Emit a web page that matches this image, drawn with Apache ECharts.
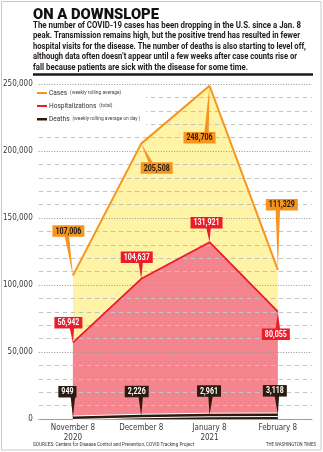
<!DOCTYPE html>
<html>
<head>
<meta charset="utf-8">
<script src="https://cdn.jsdelivr.net/npm/echarts@6/dist/echarts.min.js"></script>
<style>
  html, body { margin: 0; padding: 0; background: #fff; }
  #chart { width: 323px; height: 452px; }
</style>
</head>
<body>
<div id="chart"></div>
<script>
// ---- data ----
const categories = ['November 8\n2020', 'December 8', 'January 8\n2021', 'February 8'];
const cases = [107006, 205508, 248706, 111329];
const hospitalizations = [56942, 104637, 131921, 80055];
const deaths = [949, 2226, 2961, 3118];
const yMin = 0, yMax = 250000, yStep = 50000;

// ---- text ----
const titleText = 'ON A DOWNSLOPE';
const bodyLines = [
  'The number of COVID-19 cases has been dropping in the U.S. since a Jan. 8',
  'peak. Transmission remains high, but the positive trend has resulted in fewer',
  'hospital visits for the disease. The number of deaths is also starting to level off,',
  'although data often doesn\u2019t appear until a few weeks after case counts rise or',
  'fall because patients are sick with the disease for some time.'
];
const legendNames = ['Cases', 'Hospitalizations', 'Deaths'];
const legendNotes = ['(weekly rolling average)', '(total)', '(weekly rolling average on day )'];
const sourceText = 'SOURCES: Centers for Disease Control and Prevention, COVID Tracking Project';
const creditText = 'THE WASHINGTON TIMES';

// ---- styling ----
const COLORS = {
  orange: '#f7941d', yellow: '#fff3a6', red: '#ec1c2b', pink: '#f4848d',
  dark: '#2b1a10', ink: '#1e1a18', axisText: '#3a3a3a', axisLine: '#9c9c9c'
};

// measure text so condensed newspaper type can be imitated with a horizontal scale
const mctx = document.createElement('canvas').getContext('2d');
function textW(str, font) { mctx.font = font; return mctx.measureText(str).width; }
function hasFont(name) {
  const probe = 'mmmmmmmmwwwwlli10,.';
  mctx.font = '20px monospace';
  const w0 = mctx.measureText(probe).width;
  mctx.font = "20px '" + name + "', monospace";
  return mctx.measureText(probe).width !== w0;
}
const narrowFamily = hasFont('Liberation Sans Narrow') ? "'Liberation Sans Narrow'"
  : hasFont('DejaVu Sans Condensed') ? "'DejaVu Sans Condensed'" : 'Roboto';
const narrowAvailable = narrowFamily !== 'Roboto';
const BASE = 'Roboto';

function fittedText(str, font, x, y, width, fill, extra) {
  const s = width / textW(str, font);
  return Object.assign({
    type: 'text', x: x, y: y, scaleX: s, silent: true, z: 10,
    style: { text: str, font: font, fill: fill, align: 'left', verticalAlign: 'middle',
             textAlign: 'left', textVerticalAlign: 'middle' }
  }, extra || {});
}

// ---- header, legend and footer graphics ----
const graphics = [];
graphics.push({
  type: 'rect', silent: true, z: 0,
  shape: { x: 1.5, y: 1.5, width: 319.5, height: 448.5 },
  style: { fill: 'none', stroke: '#c9c9c9', lineWidth: 1 }
});
graphics.push(fittedText(titleText, '900 14.5px ' + BASE, 33, 15, 126, '#111'));
const bodyWidths = [268, 267, 273, 264, 215];
bodyLines.forEach(function (line, i) {
  graphics.push(fittedText(line, 'bold 9.5px ' + BASE, 33, 25.5 + i * 10.5, bodyWidths[i], COLORS.ink));
});
graphics.push({
  type: 'line', silent: true, z: 10,
  shape: { x1: 33, y1: 74.5, x2: 313, y2: 74.5 },
  style: { stroke: '#1a1a1a', lineWidth: 2.5 }
});

// legend block (white backing hides the grid rows behind it)
graphics.push({
  type: 'rect', silent: true, z: 9,
  shape: { x: 34, y: 87, width: 112, height: 38 },
  style: { fill: '#fff' }
});
const legendColors = [COLORS.orange, COLORS.red, COLORS.dark];
const nameFont = '7.5px ' + BASE, noteFont = '5.6px ' + BASE;
const legendScale = 71 / (textW(legendNames[0] + ' ', nameFont) + textW(legendNotes[0], noteFont));
legendNames.forEach(function (name, i) {
  const y = 93 + i * 13;
  graphics.push({
    type: 'rect', silent: true, z: 10,
    shape: { x: 37, y: y - 1, width: 10, height: i === 2 ? 2.5 : 2 },
    style: { fill: legendColors[i] }
  });
  graphics.push({
    type: 'text', silent: true, z: 10, x: 49, y: y, scaleX: legendScale,
    style: {
      text: '{a|' + name + '} {b|' + legendNotes[i] + '}',
      align: 'left', verticalAlign: 'middle', textAlign: 'left', textVerticalAlign: 'middle',
      rich: {
        a: { font: nameFont, fill: '#333', fontSize: 7.5, fontFamily: BASE, color: '#333' },
        b: { font: noteFont, fill: '#444', fontSize: 5.6, fontFamily: BASE, color: '#444' }
      }
    }
  });
});

graphics.push(fittedText(sourceText, '5.6px ' + BASE, 33, 445, 161, '#333'));
graphics.push(fittedText(creditText, '5.6px ' + BASE, 266, 445, 50, '#333'));

// ---- value callouts: box offset (dx, dy) from the point and pointer base shift (bx) ----
const calloutLayout = {
  cases:  [[-4.5, -44.5, -1.5], [15.5, 24.5, -6], [-10, 52, 7], [4, -65, -4]],
  hosp:   [[-4.5, -20, 3.5], [-4.5, -21.5, 4], [-3, -19.5, 2], [-2, 22.5, 2]],
  deaths: [[-5.5, -26, 5.5], [-4.5, -24.5, 4], [-0.5, -24, 1.5], [-3, -24, 2]]
};
const calloutFont = 'bold 8.5px ' + BASE;
const calloutScale = 26 / textW('107,006', calloutFont);

function calloutSeries(values, layout, boxColor, textColor) {
  return {
    type: 'custom',
    coordinateSystem: 'cartesian2d',
    silent: true, clip: false, z: 6,
    data: values.map(function (v, i) { return [i, v]; }),
    renderItem: function (params, api) {
      const idx = params.dataIndex;
      const p = api.coord([api.value(0), api.value(1)]);
      const lay = layout[idx];
      const label = api.value(1).toLocaleString('en-US');
      const w = textW(label, calloutFont) * calloutScale + 6;
      const h = 11.5;
      const cx = p[0] + lay[0], cy = p[1] + lay[1];
      const baseY = lay[1] > 0 ? cy - h / 2 + 0.5 : cy + h / 2 - 0.5;
      const bx = cx + lay[2];
      return {
        type: 'group',
        children: [
          { type: 'polygon', shape: { points: [[bx - 2.2, baseY], [bx + 2.2, baseY], [p[0], p[1]]] },
            style: { fill: boxColor } },
          { type: 'rect', shape: { x: cx - w / 2, y: cy - h / 2, width: w, height: h },
            style: { fill: boxColor } },
          { type: 'text', x: cx, y: cy + 0.5, scaleX: calloutScale,
            style: { text: label, font: calloutFont, fill: textColor,
                     align: 'center', verticalAlign: 'middle',
                     textAlign: 'center', textVerticalAlign: 'middle' } }
        ]
      };
    }
  };
}

const axisFont = narrowAvailable ? narrowFamily : BASE;
const axisSize = narrowAvailable ? 8 : 7;

const option = {
  animation: false,
  backgroundColor: '#fff',
  grid: { left: 34, right: 11, top: 84, bottom: 33 },
  xAxis: {
    type: 'category',
    data: categories,
    boundaryGap: true,
    axisLine: { lineStyle: { color: COLORS.axisLine, width: 1 } },
    axisTick: { inside: true, length: 9, lineStyle: { color: COLORS.axisLine } },
    axisLabel: { color: COLORS.axisText, fontFamily: axisFont, fontSize: axisSize, lineHeight: 10, margin: 4 },
    splitLine: { show: false }
  },
  yAxis: {
    type: 'value',
    min: yMin, max: yMax, interval: yStep,
    z: 2,
    axisLine: { show: false },
    axisTick: { show: false },
    axisLabel: {
      color: COLORS.axisText, fontFamily: axisFont, fontSize: axisSize, margin: 6,
      formatter: function (v) { return v.toLocaleString('en-US'); }
    },
    splitLine: {
      lineStyle: {
        type: [1, 1.6], width: 1,
        color: ['rgba(0,0,0,0)', '#9a9a9a', '#9a9a9a', '#9a9a9a', '#9a9a9a', '#9a9a9a']
      }
    },
    minorTick: { show: false, splitNumber: 5 },
    minorSplitLine: { show: true, lineStyle: { type: [4.5, 3.5], color: '#c2c2c2', width: 1 } }
  },
  graphic: { elements: graphics },
  series: [
    { name: 'casesArea', type: 'line', data: cases, symbol: 'none', silent: true, z: 1,
      lineStyle: { width: 0 }, areaStyle: { color: COLORS.yellow, opacity: 1 } },
    { name: 'hospArea', type: 'line', data: hospitalizations, symbol: 'none', silent: true, z: 1,
      lineStyle: { width: 0 }, areaStyle: { color: COLORS.pink, opacity: 1 } },
    { name: 'deathsArea', type: 'line', data: deaths, symbol: 'none', silent: true, z: 1,
      lineStyle: { width: 4.5, color: '#fff' }, areaStyle: { color: COLORS.dark, opacity: 1 } },
    { name: 'Cases', type: 'line', data: cases, symbol: 'none', silent: true, z: 3,
      lineStyle: { width: 2, color: COLORS.orange }, itemStyle: { color: COLORS.orange } },
    { name: 'Hospitalizations', type: 'line', data: hospitalizations, symbol: 'none', silent: true, z: 3,
      lineStyle: { width: 1.8, color: COLORS.red }, itemStyle: { color: COLORS.red } },
    { name: 'Deaths', type: 'line', data: deaths, symbol: 'none', silent: true, z: 3,
      lineStyle: { width: 2.6, color: COLORS.dark }, itemStyle: { color: COLORS.dark } },
    calloutSeries(cases, calloutLayout.cases, COLORS.orange, COLORS.ink),
    calloutSeries(hospitalizations, calloutLayout.hosp, COLORS.red, '#fff'),
    calloutSeries(deaths, calloutLayout.deaths, COLORS.dark, '#fff')
  ]
};

const chart = echarts.init(document.getElementById('chart'), null, { renderer: 'canvas' });
chart.setOption(option);
</script>
</body>
</html>
